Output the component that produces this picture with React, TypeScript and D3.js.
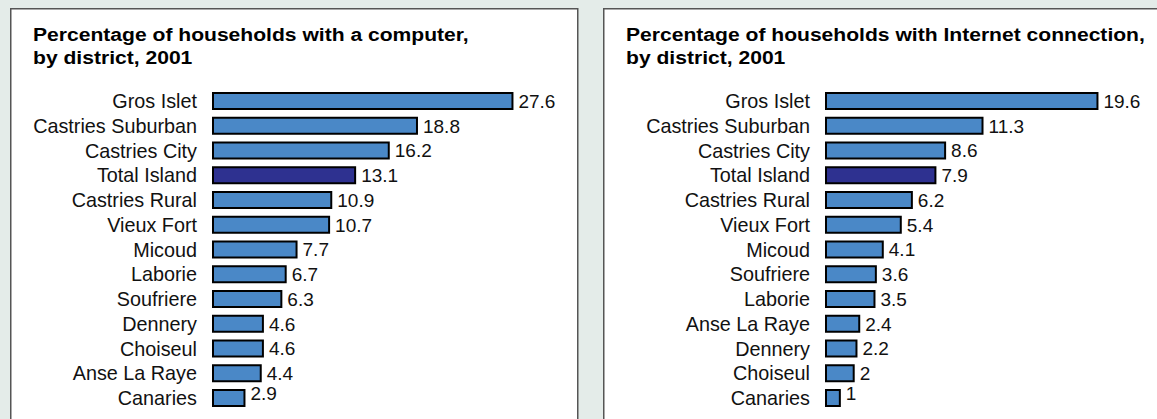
import React from "react";
import * as d3 from "d3";

const computerDistricts = ["Gros Islet", "Castries Suburban", "Castries City", "Total Island", "Castries Rural", "Vieux Fort", "Micoud", "Laborie", "Soufriere", "Dennery", "Choiseul", "Anse La Raye", "Canaries"];
const computerValues = [27.6, 18.8, 16.2, 13.1, 10.9, 10.7, 7.7, 6.7, 6.3, 4.6, 4.6, 4.4, 2.9];
const computerLabels = ["27.6", "18.8", "16.2", "13.1", "10.9", "10.7", "7.7", "6.7", "6.3", "4.6", "4.6", "4.4", "2.9"];

const internetDistricts = ["Gros Islet", "Castries Suburban", "Castries City", "Total Island", "Castries Rural", "Vieux Fort", "Micoud", "Soufriere", "Laborie", "Anse La Raye", "Dennery", "Choiseul", "Canaries"];
const internetValues = [19.6, 11.3, 8.6, 7.9, 6.2, 5.4, 4.1, 3.6, 3.5, 2.4, 2.2, 2, 1];
const internetLabels = ["19.6", "11.3", "8.6", "7.9", "6.2", "5.4", "4.1", "3.6", "3.5", "2.4", "2.2", "2", "1"];

const titles = [
  ["Percentage of households with a computer,", "by district, 2001"],
  ["Percentage of households with Internet connection,", "by district, 2001"],
];

const W = 1157;
const H = 419;
const FONT = "'Liberation Sans', Arial, Helvetica, sans-serif";
const BAR = "#4a88c7";
const TOTAL = "#2e3190";

type PanelProps = {
  x: number;
  w: number;
  title: string[];
  cats: string[];
  vals: number[];
  labels: string[];
  barX: number;
  maxV: number;
  pxPerUnit: number;
};

function Panel({ x, w, title, cats, vals, labels, barX, maxV, pxPerUnit }: PanelProps) {
  const y = d3.scalePoint<string>().domain(cats).range([101, 101 + 24.75 * (cats.length - 1)]);
  const xs = d3.scaleLinear().domain([0, maxV]).range([barX, barX + maxV * pxPerUnit]);
  const bh = 16;
  return (
    <g>
      <rect x={x + 0.75} y={8.75} width={w} height={H} fill="#fff" stroke="#555" strokeWidth={1.5} />
      {title.map((t, i) => (
        <text
          key={i}
          transform={`translate(${x + 23},${41 + i * 22.5}) scale(1.11,1)`}
          fontFamily={FONT}
          fontWeight="bold"
          fontSize={19}
          fill="#000"
        >
          {t}
        </text>
      ))}
      {cats.map((c, i) => {
        const cy = y(c)!;
        const last = i === cats.length - 1;
        return (
          <g key={c}>
            <text x={barX - 16} y={cy} dy="0.36em" textAnchor="end" fontFamily={FONT} fontSize={19.8} fill="#111">
              {c}
            </text>
            <rect
              x={xs(0)}
              y={cy - bh / 2}
              width={xs(vals[i]) - xs(0)}
              height={bh}
              fill={c === "Total Island" ? TOTAL : BAR}
              stroke="#000"
              strokeWidth={2}
            />
            <text x={xs(vals[i]) + 6} y={last ? cy - 5 : cy} dy="0.36em" fontFamily={FONT} fontSize={19} fill="#111">
              {labels[i]}
            </text>
          </g>
        );
      })}
    </g>
  );
}

export default function App() {
  return (
    <svg width={W} height={H} style={{ position: "absolute", left: 0, top: 0, display: "block" }}>
      <rect x={0} y={0} width={W} height={H} fill="#e4ece9" />
      <Panel x={10} w={567} title={titles[0]} cats={computerDistricts} vals={computerValues} labels={computerLabels} barX={213} maxV={30} pxPerUnit={10.85} />
      <Panel x={603} w={600} title={titles[1]} cats={internetDistricts} vals={internetValues} labels={internetLabels} barX={826} maxV={20} pxPerUnit={13.85} />
    </svg>
  );
}
